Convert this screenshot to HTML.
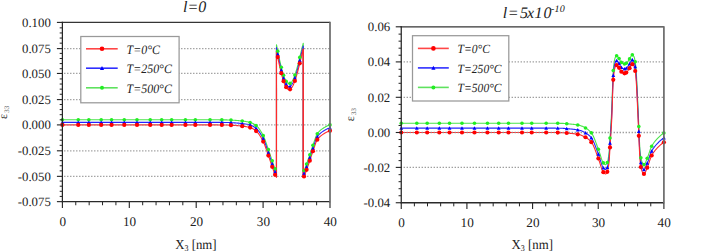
<!DOCTYPE html>
<html><head><meta charset="utf-8"><style>
html,body{margin:0;padding:0;background:#fff;width:725px;height:252px;overflow:hidden}
svg{display:block}
</style></head><body>
<svg width="725" height="252" viewBox="0 0 725 252" text-rendering="geometricPrecision">
<rect width="725" height="252" fill="#fff"/>
<polyline points="62.4,119.79 63.23,119.79 64.05,119.79 64.88,119.79 65.71,119.79 66.53,119.79 67.36,119.79 68.19,119.79 69.01,119.79 69.84,119.79 70.67,119.79 71.49,119.79 72.32,119.79 73.15,119.79 73.97,119.79 74.8,119.79 75.63,119.79 76.45,119.79 77.28,119.79 78.1,119.79 78.93,119.79 79.76,119.79 80.58,119.79 81.41,119.79 82.24,119.79 83.06,119.79 83.89,119.79 84.72,119.79 85.54,119.79 86.37,119.79 87.2,119.79 88.02,119.79 88.85,119.79 89.68,119.79 90.5,119.79 91.33,119.79 92.16,119.79 92.98,119.79 93.81,119.79 94.64,119.79 95.46,119.79 96.29,119.79 97.12,119.79 97.94,119.79 98.77,119.79 99.6,119.79 100.42,119.79 101.25,119.79 102.08,119.79 102.9,119.79 103.73,119.79 104.55,119.79 105.38,119.79 106.21,119.79 107.03,119.79 107.86,119.79 108.69,119.79 109.51,119.79 110.34,119.79 111.17,119.79 111.99,119.79 112.82,119.79 113.65,119.79 114.47,119.79 115.3,119.79 116.13,119.79 116.95,119.79 117.78,119.79 118.61,119.79 119.43,119.79 120.26,119.79 121.09,119.79 121.91,119.79 122.74,119.79 123.57,119.79 124.39,119.79 125.22,119.79 126.05,119.79 126.87,119.79 127.7,119.79 128.53,119.79 129.35,119.79 130.18,119.79 131,119.79 131.83,119.79 132.66,119.79 133.48,119.79 134.31,119.79 135.14,119.79 135.96,119.79 136.79,119.79 137.62,119.79 138.44,119.79 139.27,119.79 140.1,119.79 140.92,119.79 141.75,119.79 142.58,119.79 143.4,119.79 144.23,119.79 145.06,119.79 145.88,119.79 146.71,119.79 147.54,119.79 148.36,119.79 149.19,119.79 150.02,119.79 150.84,119.79 151.67,119.79 152.5,119.79 153.32,119.79 154.15,119.79 154.98,119.79 155.8,119.79 156.63,119.79 157.45,119.79 158.28,119.79 159.11,119.79 159.93,119.79 160.76,119.79 161.59,119.79 162.41,119.79 163.24,119.79 164.07,119.79 164.89,119.79 165.72,119.79 166.55,119.79 167.37,119.79 168.2,119.79 169.03,119.79 169.85,119.79 170.68,119.79 171.51,119.79 172.33,119.79 173.16,119.79 173.99,119.79 174.81,119.79 175.64,119.79 176.47,119.79 177.29,119.79 178.12,119.79 178.95,119.79 179.77,119.79 180.6,119.79 181.43,119.79 182.25,119.79 183.08,119.79 183.9,119.79 184.73,119.79 185.56,119.79 186.38,119.79 187.21,119.79 188.04,119.79 188.86,119.79 189.69,119.79 190.52,119.79 191.34,119.79 192.17,119.79 193,119.79 193.82,119.79 194.65,119.79 195.48,119.79 196.3,119.79 197.13,119.79 197.96,119.79 198.78,119.79 199.61,119.79 200.44,119.79 201.26,119.79 202.09,119.79 202.92,119.79 203.74,119.79 204.57,119.79 205.4,119.79 206.22,119.79 207.05,119.79 207.88,119.79 208.7,119.79 209.53,119.79 210.35,119.79 211.18,119.79 212.01,119.79 212.83,119.8 213.66,119.8 214.49,119.8 215.31,119.8 216.14,119.81 216.97,119.81 217.79,119.82 218.62,119.82 219.45,119.83 220.27,119.83 221.1,119.84 221.93,119.85 222.75,119.86 223.58,119.86 224.41,119.87 225.23,119.88 226.06,119.89 226.89,119.9 227.71,119.93 228.54,119.96 229.37,119.99 230.19,120.04 231.02,120.08 231.85,120.13 232.67,120.18 233.5,120.23 234.33,120.28 235.15,120.34 235.98,120.4 236.8,120.47 237.63,120.54 238.46,120.62 239.28,120.7 240.11,120.78 240.94,120.87 241.76,120.96 242.59,121.06 243.42,121.17 244.24,121.28 245.07,121.39 245.9,121.53 246.72,121.67 247.55,121.83 248.38,122.01 249.2,122.2 250.03,122.42 250.86,122.67 251.68,122.98 252.51,123.35 253.34,123.78 254.16,124.26 254.99,124.78 255.82,125.36 256.64,126 257.47,126.78 258.3,127.7 259.12,128.76 259.95,129.93 260.78,131.22 261.6,132.61 262.43,134.1 263.25,135.67 264.08,137.46 264.91,139.54 265.73,141.83 266.56,144.25 267.39,146.72 268.21,149.14 269.04,151.51 269.87,153.96 270.69,156.44 271.52,158.9 272.35,161.29 273.17,163.73 274,166.14 274.83,168.27 275.65,169.99 276.48,171.38 276.48,44.68 276.82,46.43 277.16,48.15 277.5,49.87 277.83,51.57 278.17,53.24 278.51,54.9 278.85,56.52 279.19,58.12 279.53,59.69 279.87,61.22 280.21,62.72 280.54,64.18 280.88,65.59 281.22,66.97 281.56,68.3 281.9,69.59 282.24,70.83 282.58,72.02 282.92,73.15 283.25,74.24 283.59,75.27 283.93,76.24 284.27,77.16 284.61,78.03 284.95,78.83 285.29,79.57 285.63,80.25 285.96,80.88 286.3,81.44 286.64,81.93 286.98,82.37 287.32,82.74 287.66,83.05 288,83.29 288.34,83.47 288.67,83.59 289.01,83.64 289.35,83.63 289.69,83.56 290.03,83.42 290.37,83.22 290.71,82.96 291.05,82.64 291.38,82.26 291.72,81.81 292.06,81.31 292.4,80.75 292.74,80.14 293.08,79.46 293.42,78.74 293.76,77.96 294.09,77.13 294.43,76.25 294.77,75.32 295.11,74.35 295.45,73.33 295.79,72.27 296.13,71.17 296.47,70.02 296.8,68.85 297.14,67.64 297.48,66.39 297.82,65.12 298.16,63.82 298.5,62.5 298.84,61.16 299.18,59.8 299.51,58.42 299.85,57.03 300.19,55.63 300.53,54.23 300.87,52.82 301.21,51.41 301.55,50.01 301.89,48.61 302.22,47.23 302.56,45.86 302.9,44.51 303.24,43.19 303.24,171.38 303.58,171.11 303.92,170.73 304.26,170.23 304.59,169.56 304.93,168.73 305.27,167.8 305.61,166.8 305.95,165.77 306.29,164.76 306.63,163.81 306.97,162.88 307.3,161.93 307.64,160.97 307.98,160.01 308.32,159.03 308.66,158.05 309,157.06 309.34,156.07 309.68,155.08 310.01,154.09 310.35,153.08 310.69,152.05 311.03,151.02 311.37,149.99 311.71,148.96 312.05,147.94 312.39,146.93 312.72,145.95 313.06,144.98 313.4,143.99 313.74,142.97 314.08,141.93 314.42,140.89 314.76,139.86 315.1,138.85 315.43,137.88 315.77,136.96 316.11,136.1 316.45,135.32 316.79,134.62 317.13,134.03 317.47,133.54 317.81,133.09 318.14,132.65 318.48,132.25 318.82,131.86 319.16,131.5 319.5,131.15 319.84,130.82 320.18,130.51 320.52,130.21 320.85,129.93 321.19,129.65 321.53,129.39 321.87,129.15 322.21,128.9 322.55,128.67 322.89,128.45 323.23,128.22 323.56,128.01 323.9,127.79 324.24,127.58 324.58,127.37 324.92,127.17 325.26,126.97 325.6,126.78 325.94,126.59 326.27,126.41 326.61,126.23 326.95,126.06 327.29,125.9 327.63,125.74 327.97,125.6 328.31,125.46 328.65,125.33 328.98,125.21 329.32,125.09 329.66,124.99 330,124.9" fill="none" stroke="#4be44b" stroke-width="1.1" stroke-linejoin="round"/>
<polyline points="62.4,122.35 63.23,122.35 64.05,122.35 64.88,122.35 65.71,122.35 66.53,122.35 67.36,122.35 68.19,122.35 69.01,122.35 69.84,122.35 70.67,122.35 71.49,122.35 72.32,122.35 73.15,122.35 73.97,122.35 74.8,122.35 75.63,122.35 76.45,122.35 77.28,122.35 78.1,122.35 78.93,122.35 79.76,122.35 80.58,122.35 81.41,122.35 82.24,122.35 83.06,122.35 83.89,122.35 84.72,122.35 85.54,122.35 86.37,122.35 87.2,122.35 88.02,122.35 88.85,122.35 89.68,122.35 90.5,122.35 91.33,122.35 92.16,122.35 92.98,122.35 93.81,122.35 94.64,122.35 95.46,122.35 96.29,122.35 97.12,122.35 97.94,122.35 98.77,122.35 99.6,122.35 100.42,122.35 101.25,122.35 102.08,122.35 102.9,122.35 103.73,122.35 104.55,122.35 105.38,122.35 106.21,122.35 107.03,122.35 107.86,122.35 108.69,122.35 109.51,122.35 110.34,122.35 111.17,122.35 111.99,122.35 112.82,122.35 113.65,122.35 114.47,122.35 115.3,122.35 116.13,122.35 116.95,122.35 117.78,122.35 118.61,122.35 119.43,122.35 120.26,122.35 121.09,122.35 121.91,122.35 122.74,122.35 123.57,122.35 124.39,122.35 125.22,122.35 126.05,122.35 126.87,122.35 127.7,122.35 128.53,122.35 129.35,122.35 130.18,122.35 131,122.35 131.83,122.35 132.66,122.35 133.48,122.35 134.31,122.35 135.14,122.35 135.96,122.35 136.79,122.35 137.62,122.35 138.44,122.35 139.27,122.35 140.1,122.35 140.92,122.35 141.75,122.35 142.58,122.35 143.4,122.35 144.23,122.35 145.06,122.35 145.88,122.35 146.71,122.35 147.54,122.35 148.36,122.35 149.19,122.35 150.02,122.35 150.84,122.35 151.67,122.35 152.5,122.35 153.32,122.35 154.15,122.35 154.98,122.35 155.8,122.35 156.63,122.35 157.45,122.35 158.28,122.35 159.11,122.35 159.93,122.35 160.76,122.35 161.59,122.35 162.41,122.35 163.24,122.35 164.07,122.35 164.89,122.35 165.72,122.35 166.55,122.35 167.37,122.35 168.2,122.35 169.03,122.35 169.85,122.35 170.68,122.35 171.51,122.35 172.33,122.35 173.16,122.35 173.99,122.35 174.81,122.35 175.64,122.35 176.47,122.35 177.29,122.35 178.12,122.35 178.95,122.35 179.77,122.35 180.6,122.35 181.43,122.35 182.25,122.35 183.08,122.35 183.9,122.35 184.73,122.35 185.56,122.35 186.38,122.35 187.21,122.35 188.04,122.35 188.86,122.35 189.69,122.35 190.52,122.35 191.34,122.35 192.17,122.35 193,122.35 193.82,122.35 194.65,122.35 195.48,122.35 196.3,122.35 197.13,122.35 197.96,122.35 198.78,122.35 199.61,122.35 200.44,122.35 201.26,122.35 202.09,122.35 202.92,122.35 203.74,122.35 204.57,122.35 205.4,122.35 206.22,122.35 207.05,122.35 207.88,122.35 208.7,122.35 209.53,122.35 210.35,122.35 211.18,122.35 212.01,122.35 212.83,122.35 213.66,122.35 214.49,122.35 215.31,122.36 216.14,122.36 216.97,122.37 217.79,122.37 218.62,122.38 219.45,122.38 220.27,122.39 221.1,122.39 221.93,122.4 222.75,122.41 223.58,122.42 224.41,122.43 225.23,122.44 226.06,122.45 226.89,122.46 227.71,122.48 228.54,122.51 229.37,122.55 230.19,122.59 231.02,122.64 231.85,122.69 232.67,122.74 233.5,122.79 234.33,122.84 235.15,122.9 235.98,122.96 236.8,123.02 237.63,123.1 238.46,123.17 239.28,123.25 240.11,123.33 240.94,123.42 241.76,123.52 242.59,123.62 243.42,123.72 244.24,123.83 245.07,123.95 245.9,124.08 246.72,124.22 247.55,124.38 248.38,124.56 249.2,124.76 250.03,124.98 250.86,125.23 251.68,125.56 252.51,125.95 253.34,126.41 254.16,126.92 254.99,127.48 255.82,128.09 256.64,128.76 257.47,129.59 258.3,130.55 259.12,131.63 259.95,132.84 260.78,134.15 261.6,135.56 262.43,137.06 263.25,138.63 264.08,140.42 264.91,142.5 265.73,144.8 266.56,147.22 267.39,149.68 268.21,152.1 269.04,154.48 269.87,156.92 270.69,159.4 271.52,161.86 272.35,164.25 273.17,166.7 274,169.1 274.83,171.24 275.65,172.95 276.48,174.35 276.48,47.65 276.82,49.39 277.16,51.12 277.5,52.83 277.83,54.53 278.17,56.21 278.51,57.86 278.85,59.48 279.19,61.08 279.53,62.65 279.87,64.18 280.21,65.68 280.54,67.14 280.88,68.56 281.22,69.93 281.56,71.27 281.9,72.55 282.24,73.79 282.58,74.98 282.92,76.12 283.25,77.2 283.59,78.23 283.93,79.21 284.27,80.13 284.61,80.99 284.95,81.79 285.29,82.53 285.63,83.22 285.96,83.84 286.3,84.4 286.64,84.9 286.98,85.33 287.32,85.7 287.66,86.01 288,86.25 288.34,86.43 288.67,86.55 289.01,86.6 289.35,86.59 289.69,86.52 290.03,86.38 290.37,86.18 290.71,85.92 291.05,85.6 291.38,85.22 291.72,84.78 292.06,84.27 292.4,83.71 292.74,83.1 293.08,82.43 293.42,81.7 293.76,80.92 294.09,80.09 294.43,79.21 294.77,78.29 295.11,77.31 295.45,76.29 295.79,75.23 296.13,74.13 296.47,72.99 296.8,71.81 297.14,70.6 297.48,69.36 297.82,68.08 298.16,66.79 298.5,65.46 298.84,64.12 299.18,62.76 299.51,61.38 299.85,59.99 300.19,58.59 300.53,57.19 300.87,55.78 301.21,54.37 301.55,52.97 301.89,51.58 302.22,50.19 302.56,48.83 302.9,47.48 303.24,46.15 303.24,174.35 303.58,174.07 303.92,173.69 304.26,173.2 304.59,172.52 304.93,171.69 305.27,170.76 305.61,169.76 305.95,168.74 306.29,167.73 306.63,166.77 306.97,165.84 307.3,164.89 307.64,163.94 307.98,162.97 308.32,161.99 308.66,161.01 309,160.03 309.34,159.04 309.68,158.05 310.01,157.05 310.35,156.04 310.69,155.01 311.03,153.98 311.37,152.95 311.71,151.92 312.05,150.9 312.39,149.89 312.72,148.91 313.06,147.95 313.4,146.95 313.74,145.93 314.08,144.9 314.42,143.85 314.76,142.82 315.1,141.82 315.43,140.84 315.77,139.92 316.11,139.06 316.45,138.28 316.79,137.58 317.13,136.99 317.47,136.5 317.81,136.05 318.14,135.62 318.48,135.21 318.82,134.82 319.16,134.46 319.5,134.11 319.84,133.78 320.18,133.47 320.52,133.17 320.85,132.89 321.19,132.62 321.53,132.36 321.87,132.11 322.21,131.87 322.55,131.63 322.89,131.41 323.23,131.19 323.56,130.97 323.9,130.75 324.24,130.54 324.58,130.34 324.92,130.13 325.26,129.93 325.6,129.74 325.94,129.55 326.27,129.37 326.61,129.19 326.95,129.02 327.29,128.86 327.63,128.71 327.97,128.56 328.31,128.42 328.65,128.29 328.98,128.17 329.32,128.06 329.66,127.95 330,127.86" fill="none" stroke="#2424ff" stroke-width="1.1" stroke-linejoin="round"/>
<polyline points="62.4,124.9 63.23,124.9 64.05,124.9 64.88,124.9 65.71,124.9 66.53,124.9 67.36,124.9 68.19,124.9 69.01,124.9 69.84,124.9 70.67,124.9 71.49,124.9 72.32,124.9 73.15,124.9 73.97,124.9 74.8,124.9 75.63,124.9 76.45,124.9 77.28,124.9 78.1,124.9 78.93,124.9 79.76,124.9 80.58,124.9 81.41,124.9 82.24,124.9 83.06,124.9 83.89,124.9 84.72,124.9 85.54,124.9 86.37,124.9 87.2,124.9 88.02,124.9 88.85,124.9 89.68,124.9 90.5,124.9 91.33,124.9 92.16,124.9 92.98,124.9 93.81,124.9 94.64,124.9 95.46,124.9 96.29,124.9 97.12,124.9 97.94,124.9 98.77,124.9 99.6,124.9 100.42,124.9 101.25,124.9 102.08,124.9 102.9,124.9 103.73,124.9 104.55,124.9 105.38,124.9 106.21,124.9 107.03,124.9 107.86,124.9 108.69,124.9 109.51,124.9 110.34,124.9 111.17,124.9 111.99,124.9 112.82,124.9 113.65,124.9 114.47,124.9 115.3,124.9 116.13,124.9 116.95,124.9 117.78,124.9 118.61,124.9 119.43,124.9 120.26,124.9 121.09,124.9 121.91,124.9 122.74,124.9 123.57,124.9 124.39,124.9 125.22,124.9 126.05,124.9 126.87,124.9 127.7,124.9 128.53,124.9 129.35,124.9 130.18,124.9 131,124.9 131.83,124.9 132.66,124.9 133.48,124.9 134.31,124.9 135.14,124.9 135.96,124.9 136.79,124.9 137.62,124.9 138.44,124.9 139.27,124.9 140.1,124.9 140.92,124.9 141.75,124.9 142.58,124.9 143.4,124.9 144.23,124.9 145.06,124.9 145.88,124.9 146.71,124.9 147.54,124.9 148.36,124.9 149.19,124.9 150.02,124.9 150.84,124.9 151.67,124.9 152.5,124.9 153.32,124.9 154.15,124.9 154.98,124.9 155.8,124.9 156.63,124.9 157.45,124.9 158.28,124.9 159.11,124.9 159.93,124.9 160.76,124.9 161.59,124.9 162.41,124.9 163.24,124.9 164.07,124.9 164.89,124.9 165.72,124.9 166.55,124.9 167.37,124.9 168.2,124.9 169.03,124.9 169.85,124.9 170.68,124.9 171.51,124.9 172.33,124.9 173.16,124.9 173.99,124.9 174.81,124.9 175.64,124.9 176.47,124.9 177.29,124.9 178.12,124.9 178.95,124.9 179.77,124.9 180.6,124.9 181.43,124.9 182.25,124.9 183.08,124.9 183.9,124.9 184.73,124.9 185.56,124.9 186.38,124.9 187.21,124.9 188.04,124.9 188.86,124.9 189.69,124.9 190.52,124.9 191.34,124.9 192.17,124.9 193,124.9 193.82,124.9 194.65,124.9 195.48,124.9 196.3,124.9 197.13,124.9 197.96,124.9 198.78,124.9 199.61,124.9 200.44,124.9 201.26,124.9 202.09,124.9 202.92,124.9 203.74,124.9 204.57,124.9 205.4,124.9 206.22,124.9 207.05,124.9 207.88,124.9 208.7,124.9 209.53,124.9 210.35,124.9 211.18,124.9 212.01,124.9 212.83,124.9 213.66,124.91 214.49,124.91 215.31,124.91 216.14,124.92 216.97,124.92 217.79,124.92 218.62,124.93 219.45,124.94 220.27,124.94 221.1,124.95 221.93,124.96 222.75,124.96 223.58,124.97 224.41,124.98 225.23,124.99 226.06,125 226.89,125.01 227.71,125.03 228.54,125.06 229.37,125.1 230.19,125.14 231.02,125.19 231.85,125.24 232.67,125.29 233.5,125.34 234.33,125.39 235.15,125.45 235.98,125.51 236.8,125.58 237.63,125.65 238.46,125.72 239.28,125.8 240.11,125.89 240.94,125.98 241.76,126.07 242.59,126.17 243.42,126.27 244.24,126.38 245.07,126.5 245.9,126.63 246.72,126.78 247.55,126.94 248.38,127.11 249.2,127.31 250.03,127.53 250.86,127.8 251.68,128.14 252.51,128.55 253.34,129.04 254.16,129.58 254.99,130.17 255.82,130.82 256.64,131.53 257.47,132.39 258.3,133.39 259.12,134.51 259.95,135.75 260.78,137.08 261.6,138.51 262.43,140.02 263.25,141.59 264.08,143.38 264.91,145.47 265.73,147.76 266.56,150.18 267.39,152.64 268.21,155.06 269.04,157.44 269.87,159.89 270.69,162.36 271.52,164.82 272.35,167.21 273.17,169.66 274,172.06 274.83,174.2 275.65,175.91 276.48,177.31 276.48,50.61 276.82,52.35 277.16,54.08 277.5,55.79 277.83,57.49 278.17,59.17 278.51,60.82 278.85,62.45 279.19,64.05 279.53,65.61 279.87,67.15 280.21,68.64 280.54,70.1 280.88,71.52 281.22,72.9 281.56,74.23 281.9,75.51 282.24,76.75 282.58,77.94 282.92,79.08 283.25,80.16 283.59,81.19 283.93,82.17 284.27,83.09 284.61,83.95 284.95,84.75 285.29,85.5 285.63,86.18 285.96,86.8 286.3,87.36 286.64,87.86 286.98,88.29 287.32,88.66 287.66,88.97 288,89.22 288.34,89.4 288.67,89.51 289.01,89.57 289.35,89.56 289.69,89.48 290.03,89.35 290.37,89.15 290.71,88.89 291.05,88.56 291.38,88.18 291.72,87.74 292.06,87.24 292.4,86.68 292.74,86.06 293.08,85.39 293.42,84.66 293.76,83.89 294.09,83.06 294.43,82.18 294.77,81.25 295.11,80.27 295.45,79.25 295.79,78.19 296.13,77.09 296.47,75.95 296.8,74.77 297.14,73.56 297.48,72.32 297.82,71.05 298.16,69.75 298.5,68.43 298.84,67.08 299.18,65.72 299.51,64.34 299.85,62.95 300.19,61.56 300.53,60.15 300.87,58.74 301.21,57.34 301.55,55.93 301.89,54.54 302.22,53.16 302.56,51.79 302.9,50.44 303.24,49.11 303.24,177.31 303.58,177.03 303.92,176.66 304.26,176.16 304.59,175.48 304.93,174.66 305.27,173.72 305.61,172.72 305.95,171.7 306.29,170.69 306.63,169.73 306.97,168.8 307.3,167.86 307.64,166.9 307.98,165.93 308.32,164.96 308.66,163.97 309,162.99 309.34,162 309.68,161.01 310.01,160.01 310.35,159 310.69,157.98 311.03,156.95 311.37,155.91 311.71,154.88 312.05,153.86 312.39,152.86 312.72,151.87 313.06,150.91 313.4,149.92 313.74,148.9 314.08,147.86 314.42,146.82 314.76,145.79 315.1,144.78 315.43,143.81 315.77,142.88 316.11,142.02 316.45,141.24 316.79,140.55 317.13,139.95 317.47,139.46 317.81,139.01 318.14,138.58 318.48,138.17 318.82,137.79 319.16,137.42 319.5,137.07 319.84,136.74 320.18,136.43 320.52,136.13 320.85,135.85 321.19,135.58 321.53,135.32 321.87,135.07 322.21,134.83 322.55,134.6 322.89,134.37 323.23,134.15 323.56,133.93 323.9,133.72 324.24,133.51 324.58,133.3 324.92,133.09 325.26,132.9 325.6,132.7 325.94,132.51 326.27,132.33 326.61,132.16 326.95,131.99 327.29,131.82 327.63,131.67 327.97,131.52 328.31,131.38 328.65,131.25 328.98,131.13 329.32,131.02 329.66,130.92 330,130.83" fill="none" stroke="#ff2a2a" stroke-width="1.1" stroke-linejoin="round"/>
<polyline points="401.25,123.19 401.78,123.19 402.3,123.19 402.83,123.19 403.36,123.19 403.88,123.19 404.41,123.19 404.93,123.19 405.46,123.19 405.99,123.19 406.51,123.19 407.04,123.19 407.57,123.19 408.09,123.19 408.62,123.19 409.15,123.19 409.67,123.19 410.2,123.19 410.72,123.19 411.25,123.19 411.78,123.19 412.3,123.19 412.83,123.19 413.36,123.19 413.88,123.19 414.41,123.19 414.94,123.19 415.46,123.19 415.99,123.19 416.51,123.19 417.04,123.19 417.57,123.19 418.09,123.19 418.62,123.19 419.15,123.19 419.67,123.19 420.2,123.19 420.73,123.19 421.25,123.19 421.78,123.19 422.3,123.19 422.83,123.19 423.36,123.19 423.88,123.19 424.41,123.19 424.94,123.19 425.46,123.19 425.99,123.19 426.51,123.19 427.04,123.19 427.57,123.19 428.09,123.19 428.62,123.19 429.15,123.19 429.67,123.19 430.2,123.19 430.73,123.19 431.25,123.19 431.78,123.19 432.3,123.19 432.83,123.19 433.36,123.19 433.88,123.19 434.41,123.19 434.94,123.19 435.46,123.19 435.99,123.19 436.52,123.19 437.04,123.19 437.57,123.19 438.09,123.19 438.62,123.19 439.15,123.19 439.67,123.19 440.2,123.19 440.73,123.19 441.25,123.19 441.78,123.19 442.31,123.19 442.83,123.19 443.36,123.19 443.88,123.19 444.41,123.19 444.94,123.19 445.46,123.19 445.99,123.19 446.52,123.19 447.04,123.19 447.57,123.19 448.1,123.19 448.62,123.19 449.15,123.19 449.67,123.19 450.2,123.19 450.73,123.19 451.25,123.19 451.78,123.19 452.31,123.19 452.83,123.19 453.36,123.19 453.89,123.19 454.41,123.19 454.94,123.19 455.46,123.19 455.99,123.19 456.52,123.19 457.04,123.19 457.57,123.19 458.1,123.19 458.62,123.19 459.15,123.19 459.68,123.19 460.2,123.19 460.73,123.19 461.25,123.19 461.78,123.19 462.31,123.19 462.83,123.19 463.36,123.19 463.89,123.19 464.41,123.19 464.94,123.19 465.47,123.19 465.99,123.19 466.52,123.19 467.04,123.19 467.57,123.19 468.1,123.19 468.62,123.19 469.15,123.19 469.68,123.19 470.2,123.19 470.73,123.19 471.25,123.19 471.78,123.19 472.31,123.19 472.83,123.19 473.36,123.19 473.89,123.19 474.41,123.19 474.94,123.19 475.47,123.19 475.99,123.19 476.52,123.19 477.04,123.19 477.57,123.19 478.1,123.19 478.62,123.19 479.15,123.19 479.68,123.19 480.2,123.19 480.73,123.19 481.26,123.19 481.78,123.19 482.31,123.19 482.83,123.19 483.36,123.19 483.89,123.19 484.41,123.19 484.94,123.19 485.47,123.19 485.99,123.19 486.52,123.19 487.05,123.19 487.57,123.19 488.1,123.19 488.62,123.19 489.15,123.19 489.68,123.19 490.2,123.19 490.73,123.19 491.26,123.19 491.78,123.19 492.31,123.19 492.84,123.19 493.36,123.19 493.89,123.19 494.41,123.19 494.94,123.19 495.47,123.19 495.99,123.19 496.52,123.19 497.05,123.19 497.57,123.19 498.1,123.19 498.63,123.19 499.15,123.19 499.68,123.19 500.2,123.19 500.73,123.19 501.26,123.19 501.78,123.19 502.31,123.19 502.84,123.19 503.36,123.19 503.89,123.19 504.42,123.19 504.94,123.19 505.47,123.19 505.99,123.19 506.52,123.19 507.05,123.19 507.57,123.19 508.1,123.19 508.63,123.19 509.15,123.19 509.68,123.19 510.21,123.19 510.73,123.19 511.26,123.19 511.78,123.19 512.31,123.19 512.84,123.19 513.36,123.19 513.89,123.19 514.42,123.19 514.94,123.19 515.47,123.19 515.99,123.19 516.52,123.19 517.05,123.19 517.57,123.19 518.1,123.19 518.63,123.19 519.15,123.19 519.68,123.19 520.21,123.19 520.73,123.19 521.26,123.19 521.78,123.19 522.31,123.19 522.84,123.19 523.36,123.19 523.89,123.19 524.42,123.19 524.94,123.19 525.47,123.19 526,123.19 526.52,123.19 527.05,123.19 527.57,123.19 528.1,123.19 528.63,123.19 529.15,123.19 529.68,123.19 530.21,123.19 530.73,123.19 531.26,123.19 531.79,123.19 532.31,123.19 532.84,123.19 533.36,123.19 533.89,123.19 534.42,123.19 534.94,123.19 535.47,123.19 536,123.19 536.52,123.19 537.05,123.19 537.58,123.19 538.1,123.19 538.63,123.19 539.15,123.19 539.68,123.19 540.21,123.19 540.73,123.19 541.26,123.19 541.79,123.19 542.31,123.19 542.84,123.19 543.37,123.19 543.89,123.19 544.42,123.19 544.94,123.19 545.47,123.19 545.71,123.19 546,123.19 546.52,123.19 547.05,123.19 547.58,123.19 548.1,123.19 548.63,123.2 549.16,123.2 549.68,123.2 550.21,123.2 550.73,123.21 551.26,123.21 551.79,123.21 552.31,123.22 552.84,123.22 553.37,123.23 553.89,123.23 554.42,123.24 554.94,123.25 555.47,123.25 556,123.26 556.52,123.27 557.05,123.27 557.58,123.28 558.1,123.29 558.63,123.3 559.16,123.31 559.68,123.32 560.21,123.33 560.73,123.34 561.26,123.35 561.79,123.36 562.12,123.37 562.31,123.37 562.84,123.39 563.37,123.41 563.89,123.45 564.42,123.48 564.95,123.53 565.47,123.57 566,123.62 566.52,123.67 567.05,123.73 567.58,123.78 568.1,123.83 568.63,123.89 568.69,123.89 569.16,123.94 569.68,123.99 570.21,124.04 570.74,124.09 571.26,124.14 571.79,124.19 572.31,124.24 572.84,124.3 573.37,124.36 573.89,124.42 574.42,124.48 574.95,124.55 575.47,124.62 576,124.69 576.53,124.77 577.05,124.85 577.58,124.94 578.1,125.04 578.54,125.12 578.63,125.14 579.16,125.26 579.68,125.4 580.21,125.55 580.74,125.73 581.26,125.92 581.79,126.12 582.32,126.34 582.84,126.58 583.37,126.83 583.89,127.08 584.42,127.35 584.95,127.63 585.47,127.92 585.5,127.93 586,128.22 586.53,128.54 587.05,128.89 587.58,129.26 588.11,129.66 588.63,130.09 589.16,130.55 589.68,131.05 590.21,131.58 590.74,132.16 591.26,132.77 591.47,133.03 591.79,133.45 592.32,134.26 592.84,135.22 593.37,136.29 593.9,137.46 594.42,138.72 594.95,140.05 595.47,141.43 596,142.85 596.53,144.28 597.05,145.71 597.58,147.13 598.11,148.51 598.37,149.19 598.63,149.88 599.16,151.41 599.68,153.07 600.21,154.78 600.74,156.51 601.26,158.16 601.79,159.7 602.32,161.04 602.84,162.13 603.36,162.89 603.37,162.9 603.9,163.5 604.42,164.04 604.95,164.44 605.47,164.64 605.59,164.65 606,164.49 606.53,163.9 607.05,162.98 607.43,162.19 607.58,161.8 608.11,159.57 608.63,156.14 609.07,152.53 609.16,151.64 609.69,143.39 609.99,138.12 610.21,134.69 610.74,126.79 611.26,118.45 611.7,110.54 611.79,108.57 612.32,94 612.84,78.7 613.27,70.49 613.37,69.42 613.9,64.29 614.42,60.51 614.95,58.27 614.98,58.19 615.48,57.06 616,56.16 616.53,55.74 616.62,55.73 617.05,55.88 617.58,56.38 618.11,57.11 618.63,57.93 619.05,58.54 619.16,58.7 619.69,59.62 620.21,60.66 620.74,61.63 621.27,62.33 621.35,62.41 621.79,62.75 622.32,63.13 622.84,63.47 623.37,63.73 623.9,63.91 624.42,63.99 624.5,63.99 624.95,63.93 625.48,63.73 626,63.44 626.28,63.29 626.53,63.11 627.06,62.6 627.58,61.92 628.11,61.13 628.63,60.3 629.16,59.48 629.56,58.89 629.69,58.71 630.21,57.79 630.74,56.76 631.27,55.82 631.79,55.12 632.32,54.85 632.32,54.85 632.85,55.09 633.37,55.7 633.9,56.56 634.02,56.79 634.42,57.89 634.95,60.27 635.21,61.7 635.48,63.65 636,69.02 636.12,70.49 636.53,76.53 637.06,86.78 637.58,98.45 638.11,110.17 638.23,112.65 638.64,122.01 639.16,134.9 639.69,145.91 639.93,149.54 640.21,152.79 640.74,157.26 640.85,157.8 641.27,159.37 641.79,161.13 642.32,162.58 642.85,163.68 643.37,164.38 643.9,164.65 643.94,164.65 644.42,164.41 644.95,163.7 645.48,162.64 646,161.36 646.53,160.01 647.06,158.7 647.22,158.32 647.58,157.47 648.11,156.06 648.64,154.53 649.16,152.93 649.69,151.32 650.21,149.76 650.74,148.32 651.27,147.05 651.69,146.2 651.79,146.01 652.32,145.1 652.85,144.25 653.37,143.45 653.9,142.7 654.43,141.99 654.95,141.33 655.48,140.69 656,140.09 656.53,139.51 657.06,138.94 657.33,138.65 657.58,138.39 658.11,137.85 658.64,137.32 659.16,136.8 659.69,136.3 660.22,135.82 660.74,135.36 661.27,134.91 661.79,134.49 662.32,134.09 662.85,133.71 663.37,133.35 663.9,133.03" fill="none" stroke="#4be44b" stroke-width="1.1" stroke-linejoin="round"/>
<polyline points="401.25,128.11 401.78,128.11 402.3,128.11 402.83,128.11 403.36,128.11 403.88,128.11 404.41,128.11 404.93,128.11 405.46,128.11 405.99,128.11 406.51,128.11 407.04,128.11 407.57,128.11 408.09,128.11 408.62,128.11 409.15,128.11 409.67,128.11 410.2,128.11 410.72,128.11 411.25,128.11 411.78,128.11 412.3,128.11 412.83,128.11 413.36,128.11 413.88,128.11 414.41,128.11 414.94,128.11 415.46,128.11 415.99,128.11 416.51,128.11 417.04,128.11 417.57,128.11 418.09,128.11 418.62,128.11 419.15,128.11 419.67,128.11 420.2,128.11 420.73,128.11 421.25,128.11 421.78,128.11 422.3,128.11 422.83,128.11 423.36,128.11 423.88,128.11 424.41,128.11 424.94,128.11 425.46,128.11 425.99,128.11 426.51,128.11 427.04,128.11 427.57,128.11 428.09,128.11 428.62,128.11 429.15,128.11 429.67,128.11 430.2,128.11 430.73,128.11 431.25,128.11 431.78,128.11 432.3,128.11 432.83,128.11 433.36,128.11 433.88,128.11 434.41,128.11 434.94,128.11 435.46,128.11 435.99,128.11 436.52,128.11 437.04,128.11 437.57,128.11 438.09,128.11 438.62,128.11 439.15,128.11 439.67,128.11 440.2,128.11 440.73,128.11 441.25,128.11 441.78,128.11 442.31,128.11 442.83,128.11 443.36,128.11 443.88,128.11 444.41,128.11 444.94,128.11 445.46,128.11 445.99,128.11 446.52,128.11 447.04,128.11 447.57,128.11 448.1,128.11 448.62,128.11 449.15,128.11 449.67,128.11 450.2,128.11 450.73,128.11 451.25,128.11 451.78,128.11 452.31,128.11 452.83,128.11 453.36,128.11 453.89,128.11 454.41,128.11 454.94,128.11 455.46,128.11 455.99,128.11 456.52,128.11 457.04,128.11 457.57,128.11 458.1,128.11 458.62,128.11 459.15,128.11 459.68,128.11 460.2,128.11 460.73,128.11 461.25,128.11 461.78,128.11 462.31,128.11 462.83,128.11 463.36,128.11 463.89,128.11 464.41,128.11 464.94,128.11 465.47,128.11 465.99,128.11 466.52,128.11 467.04,128.11 467.57,128.11 468.1,128.11 468.62,128.11 469.15,128.11 469.68,128.11 470.2,128.11 470.73,128.11 471.25,128.11 471.78,128.11 472.31,128.11 472.83,128.11 473.36,128.11 473.89,128.11 474.41,128.11 474.94,128.11 475.47,128.11 475.99,128.11 476.52,128.11 477.04,128.11 477.57,128.11 478.1,128.11 478.62,128.11 479.15,128.11 479.68,128.11 480.2,128.11 480.73,128.11 481.26,128.11 481.78,128.11 482.31,128.11 482.83,128.11 483.36,128.11 483.89,128.11 484.41,128.11 484.94,128.11 485.47,128.11 485.99,128.11 486.52,128.11 487.05,128.11 487.57,128.11 488.1,128.11 488.62,128.11 489.15,128.11 489.68,128.11 490.2,128.11 490.73,128.11 491.26,128.11 491.78,128.11 492.31,128.11 492.84,128.11 493.36,128.11 493.89,128.11 494.41,128.11 494.94,128.11 495.47,128.11 495.99,128.11 496.52,128.11 497.05,128.11 497.57,128.11 498.1,128.11 498.63,128.11 499.15,128.11 499.68,128.11 500.2,128.11 500.73,128.11 501.26,128.11 501.78,128.11 502.31,128.11 502.84,128.11 503.36,128.11 503.89,128.11 504.42,128.11 504.94,128.11 505.47,128.11 505.99,128.11 506.52,128.11 507.05,128.11 507.57,128.11 508.1,128.11 508.63,128.11 509.15,128.11 509.68,128.11 510.21,128.11 510.73,128.11 511.26,128.11 511.78,128.11 512.31,128.11 512.84,128.11 513.36,128.11 513.89,128.11 514.42,128.11 514.94,128.11 515.47,128.11 515.99,128.11 516.52,128.11 517.05,128.11 517.57,128.11 518.1,128.11 518.63,128.11 519.15,128.11 519.68,128.11 520.21,128.11 520.73,128.11 521.26,128.11 521.78,128.11 522.31,128.11 522.84,128.11 523.36,128.11 523.89,128.11 524.42,128.11 524.94,128.11 525.47,128.11 526,128.11 526.52,128.11 527.05,128.11 527.57,128.11 528.1,128.11 528.63,128.11 529.15,128.11 529.68,128.11 530.21,128.11 530.73,128.11 531.26,128.11 531.79,128.11 532.31,128.11 532.84,128.11 533.36,128.11 533.89,128.11 534.42,128.11 534.94,128.11 535.47,128.11 536,128.11 536.52,128.11 537.05,128.11 537.58,128.11 538.1,128.11 538.63,128.11 539.15,128.11 539.68,128.11 540.21,128.11 540.73,128.11 541.26,128.11 541.79,128.11 542.31,128.11 542.84,128.11 543.37,128.11 543.89,128.11 544.42,128.11 544.94,128.11 545.47,128.11 545.71,128.11 546,128.11 546.52,128.11 547.05,128.11 547.58,128.11 548.1,128.11 548.63,128.11 549.16,128.12 549.68,128.12 550.21,128.12 550.73,128.12 551.26,128.13 551.79,128.13 552.31,128.14 552.84,128.14 553.37,128.15 553.89,128.15 554.42,128.16 554.94,128.16 555.47,128.17 556,128.18 556.52,128.19 557.05,128.19 557.58,128.2 558.1,128.21 558.63,128.22 559.16,128.23 559.68,128.24 560.21,128.25 560.73,128.26 561.26,128.27 561.79,128.28 562.12,128.28 562.31,128.29 562.84,128.31 563.37,128.33 563.89,128.36 564.42,128.4 564.95,128.45 565.47,128.49 566,128.54 566.52,128.59 567.05,128.65 567.58,128.7 568.1,128.75 568.63,128.81 568.69,128.81 569.16,128.86 569.68,128.91 570.21,128.96 570.74,129.01 571.26,129.06 571.79,129.11 572.31,129.16 572.84,129.22 573.37,129.27 573.89,129.33 574.42,129.4 574.95,129.46 575.47,129.53 576,129.61 576.53,129.69 577.05,129.77 577.58,129.86 578.1,129.96 578.54,130.04 578.63,130.06 579.16,130.18 579.68,130.31 580.21,130.47 580.74,130.64 581.26,130.83 581.79,131.04 582.32,131.26 582.84,131.5 583.37,131.74 583.89,132 584.42,132.27 584.95,132.55 585.47,132.84 585.5,132.85 586,133.14 586.53,133.46 587.05,133.81 587.58,134.18 588.11,134.58 588.63,135.01 589.16,135.47 589.68,135.97 590.21,136.5 590.74,137.08 591.26,137.69 591.47,137.95 591.79,138.36 592.32,139.18 592.84,140.14 593.37,141.21 593.9,142.38 594.42,143.64 594.95,144.97 595.47,146.35 596,147.76 596.53,149.2 597.05,150.63 597.58,152.05 598.11,153.43 598.37,154.11 598.63,154.8 599.16,156.33 599.68,157.98 600.21,159.7 600.74,161.42 601.26,163.08 601.79,164.61 602.32,165.96 602.84,167.05 603.36,167.81 603.37,167.82 603.9,168.42 604.42,168.96 604.95,169.36 605.47,169.56 605.59,169.57 606,169.41 606.53,168.82 607.05,167.9 607.43,167.11 607.58,166.72 608.11,164.49 608.63,161.06 609.07,157.45 609.16,156.56 609.69,148.31 609.99,143.04 610.21,139.61 610.74,131.7 611.26,123.37 611.7,115.46 611.79,113.49 612.32,98.92 612.84,83.62 613.27,75.41 613.37,74.34 613.9,69.21 614.42,65.43 614.95,63.19 614.98,63.11 615.48,61.98 616,61.08 616.53,60.66 616.62,60.65 617.05,60.8 617.58,61.3 618.11,62.03 618.63,62.85 619.05,63.46 619.16,63.62 619.69,64.54 620.21,65.58 620.74,66.55 621.27,67.25 621.35,67.33 621.79,67.67 622.32,68.05 622.84,68.38 623.37,68.65 623.9,68.83 624.42,68.91 624.5,68.91 624.95,68.84 625.48,68.64 626,68.36 626.28,68.2 626.53,68.03 627.06,67.51 627.58,66.84 628.11,66.05 628.63,65.22 629.16,64.4 629.56,63.81 629.69,63.62 630.21,62.7 630.74,61.68 631.27,60.74 631.79,60.04 632.32,59.77 632.32,59.77 632.85,60.01 633.37,60.62 633.9,61.48 634.02,61.7 634.42,62.81 634.95,65.19 635.21,66.62 635.48,68.56 636,73.94 636.12,75.41 636.53,81.45 637.06,91.7 637.58,103.36 638.11,115.09 638.23,117.57 638.64,126.93 639.16,139.82 639.69,150.83 639.93,154.46 640.21,157.71 640.74,162.18 640.85,162.72 641.27,164.29 641.79,166.05 642.32,167.5 642.85,168.6 643.37,169.3 643.9,169.56 643.94,169.57 644.42,169.33 644.95,168.62 645.48,167.56 646,166.28 646.53,164.93 647.06,163.62 647.22,163.24 647.58,162.38 648.11,160.98 648.64,159.45 649.16,157.84 649.69,156.24 650.21,154.68 650.74,153.24 651.27,151.97 651.69,151.12 651.79,150.93 652.32,150.02 652.85,149.16 653.37,148.37 653.9,147.62 654.43,146.91 654.95,146.25 655.48,145.61 656,145.01 656.53,144.42 657.06,143.86 657.33,143.57 657.58,143.31 658.11,142.76 658.64,142.24 659.16,141.72 659.69,141.22 660.22,140.74 660.74,140.28 661.27,139.83 661.79,139.41 662.32,139.01 662.85,138.63 663.37,138.27 663.9,137.95" fill="none" stroke="#2424ff" stroke-width="1.1" stroke-linejoin="round"/>
<polyline points="401.25,132.5 401.78,132.5 402.3,132.5 402.83,132.5 403.36,132.5 403.88,132.5 404.41,132.5 404.93,132.5 405.46,132.5 405.99,132.5 406.51,132.5 407.04,132.5 407.57,132.5 408.09,132.5 408.62,132.5 409.15,132.5 409.67,132.5 410.2,132.5 410.72,132.5 411.25,132.5 411.78,132.5 412.3,132.5 412.83,132.5 413.36,132.5 413.88,132.5 414.41,132.5 414.94,132.5 415.46,132.5 415.99,132.5 416.51,132.5 417.04,132.5 417.57,132.5 418.09,132.5 418.62,132.5 419.15,132.5 419.67,132.5 420.2,132.5 420.73,132.5 421.25,132.5 421.78,132.5 422.3,132.5 422.83,132.5 423.36,132.5 423.88,132.5 424.41,132.5 424.94,132.5 425.46,132.5 425.99,132.5 426.51,132.5 427.04,132.5 427.57,132.5 428.09,132.5 428.62,132.5 429.15,132.5 429.67,132.5 430.2,132.5 430.73,132.5 431.25,132.5 431.78,132.5 432.3,132.5 432.83,132.5 433.36,132.5 433.88,132.5 434.41,132.5 434.94,132.5 435.46,132.5 435.99,132.5 436.52,132.5 437.04,132.5 437.57,132.5 438.09,132.5 438.62,132.5 439.15,132.5 439.67,132.5 440.2,132.5 440.73,132.5 441.25,132.5 441.78,132.5 442.31,132.5 442.83,132.5 443.36,132.5 443.88,132.5 444.41,132.5 444.94,132.5 445.46,132.5 445.99,132.5 446.52,132.5 447.04,132.5 447.57,132.5 448.1,132.5 448.62,132.5 449.15,132.5 449.67,132.5 450.2,132.5 450.73,132.5 451.25,132.5 451.78,132.5 452.31,132.5 452.83,132.5 453.36,132.5 453.89,132.5 454.41,132.5 454.94,132.5 455.46,132.5 455.99,132.5 456.52,132.5 457.04,132.5 457.57,132.5 458.1,132.5 458.62,132.5 459.15,132.5 459.68,132.5 460.2,132.5 460.73,132.5 461.25,132.5 461.78,132.5 462.31,132.5 462.83,132.5 463.36,132.5 463.89,132.5 464.41,132.5 464.94,132.5 465.47,132.5 465.99,132.5 466.52,132.5 467.04,132.5 467.57,132.5 468.1,132.5 468.62,132.5 469.15,132.5 469.68,132.5 470.2,132.5 470.73,132.5 471.25,132.5 471.78,132.5 472.31,132.5 472.83,132.5 473.36,132.5 473.89,132.5 474.41,132.5 474.94,132.5 475.47,132.5 475.99,132.5 476.52,132.5 477.04,132.5 477.57,132.5 478.1,132.5 478.62,132.5 479.15,132.5 479.68,132.5 480.2,132.5 480.73,132.5 481.26,132.5 481.78,132.5 482.31,132.5 482.83,132.5 483.36,132.5 483.89,132.5 484.41,132.5 484.94,132.5 485.47,132.5 485.99,132.5 486.52,132.5 487.05,132.5 487.57,132.5 488.1,132.5 488.62,132.5 489.15,132.5 489.68,132.5 490.2,132.5 490.73,132.5 491.26,132.5 491.78,132.5 492.31,132.5 492.84,132.5 493.36,132.5 493.89,132.5 494.41,132.5 494.94,132.5 495.47,132.5 495.99,132.5 496.52,132.5 497.05,132.5 497.57,132.5 498.1,132.5 498.63,132.5 499.15,132.5 499.68,132.5 500.2,132.5 500.73,132.5 501.26,132.5 501.78,132.5 502.31,132.5 502.84,132.5 503.36,132.5 503.89,132.5 504.42,132.5 504.94,132.5 505.47,132.5 505.99,132.5 506.52,132.5 507.05,132.5 507.57,132.5 508.1,132.5 508.63,132.5 509.15,132.5 509.68,132.5 510.21,132.5 510.73,132.5 511.26,132.5 511.78,132.5 512.31,132.5 512.84,132.5 513.36,132.5 513.89,132.5 514.42,132.5 514.94,132.5 515.47,132.5 515.99,132.5 516.52,132.5 517.05,132.5 517.57,132.5 518.1,132.5 518.63,132.5 519.15,132.5 519.68,132.5 520.21,132.5 520.73,132.5 521.26,132.5 521.78,132.5 522.31,132.5 522.84,132.5 523.36,132.5 523.89,132.5 524.42,132.5 524.94,132.5 525.47,132.5 526,132.5 526.52,132.5 527.05,132.5 527.57,132.5 528.1,132.5 528.63,132.5 529.15,132.5 529.68,132.5 530.21,132.5 530.73,132.5 531.26,132.5 531.79,132.5 532.31,132.5 532.84,132.5 533.36,132.5 533.89,132.5 534.42,132.5 534.94,132.5 535.47,132.5 536,132.5 536.52,132.5 537.05,132.5 537.58,132.5 538.1,132.5 538.63,132.5 539.15,132.5 539.68,132.5 540.21,132.5 540.73,132.5 541.26,132.5 541.79,132.5 542.31,132.5 542.84,132.5 543.37,132.5 543.89,132.5 544.42,132.5 544.94,132.5 545.47,132.5 545.71,132.5 546,132.5 546.52,132.5 547.05,132.5 547.58,132.5 548.1,132.5 548.63,132.51 549.16,132.51 549.68,132.51 550.21,132.51 550.73,132.52 551.26,132.52 551.79,132.52 552.31,132.53 552.84,132.53 553.37,132.54 553.89,132.54 554.42,132.55 554.94,132.56 555.47,132.56 556,132.57 556.52,132.58 557.05,132.58 557.58,132.59 558.1,132.6 558.63,132.61 559.16,132.62 559.68,132.63 560.21,132.64 560.73,132.65 561.26,132.66 561.79,132.67 562.12,132.68 562.31,132.68 562.84,132.7 563.37,132.72 563.89,132.76 564.42,132.79 564.95,132.84 565.47,132.88 566,132.93 566.52,132.99 567.05,133.04 567.58,133.09 568.1,133.15 568.63,133.2 568.69,133.2 569.16,133.25 569.68,133.3 570.21,133.35 570.74,133.4 571.26,133.45 571.79,133.5 572.31,133.55 572.84,133.61 573.37,133.67 573.89,133.73 574.42,133.79 574.95,133.86 575.47,133.93 576,134 576.53,134.08 577.05,134.16 577.58,134.25 578.1,134.35 578.54,134.43 578.63,134.45 579.16,134.57 579.68,134.71 580.21,134.86 580.74,135.04 581.26,135.23 581.79,135.43 582.32,135.65 582.84,135.89 583.37,136.14 583.89,136.39 584.42,136.66 584.95,136.94 585.47,137.23 585.5,137.24 586,137.53 586.53,137.85 587.05,138.2 587.58,138.57 588.11,138.97 588.63,139.4 589.16,139.86 589.68,140.36 590.21,140.9 590.74,141.47 591.26,142.08 591.47,142.34 591.79,142.76 592.32,143.57 592.84,144.53 593.37,145.6 593.9,146.78 594.42,148.04 594.95,149.36 595.47,150.74 596,152.16 596.53,153.59 597.05,155.02 597.58,156.44 598.11,157.82 598.37,158.5 598.63,159.19 599.16,160.72 599.68,162.38 600.21,164.1 600.74,165.82 601.26,167.47 601.79,169.01 602.32,170.35 602.84,171.44 603.36,172.2 603.37,172.21 603.9,172.81 604.42,173.35 604.95,173.76 605.47,173.95 605.59,173.96 606,173.8 606.53,173.21 607.05,172.29 607.43,171.5 607.58,171.11 608.11,168.88 608.63,165.46 609.07,161.84 609.16,160.95 609.69,152.7 609.99,147.43 610.21,144 610.74,136.1 611.26,127.76 611.7,119.85 611.79,117.88 612.32,103.31 612.84,88.01 613.27,79.8 613.37,78.73 613.9,73.6 614.42,69.82 614.95,67.58 614.98,67.5 615.48,66.37 616,65.47 616.53,65.05 616.62,65.04 617.05,65.19 617.58,65.69 618.11,66.42 618.63,67.24 619.05,67.85 619.16,68.01 619.69,68.93 620.21,69.97 620.74,70.94 621.27,71.64 621.35,71.72 621.79,72.06 622.32,72.44 622.84,72.78 623.37,73.04 623.9,73.22 624.42,73.3 624.5,73.3 624.95,73.24 625.48,73.04 626,72.75 626.28,72.6 626.53,72.42 627.06,71.91 627.58,71.23 628.11,70.44 628.63,69.61 629.16,68.79 629.56,68.2 629.69,68.02 630.21,67.1 630.74,66.08 631.27,65.13 631.79,64.43 632.32,64.16 632.32,64.16 632.85,64.4 633.37,65.01 633.9,65.87 634.02,66.1 634.42,67.2 634.95,69.58 635.21,71.02 635.48,72.96 636,78.33 636.12,79.8 636.53,85.84 637.06,96.09 637.58,107.76 638.11,119.48 638.23,121.96 638.64,131.32 639.16,144.21 639.69,155.22 639.93,158.85 640.21,162.11 640.74,166.57 640.85,167.11 641.27,168.69 641.79,170.44 642.32,171.89 642.85,172.99 643.37,173.69 643.9,173.96 643.94,173.96 644.42,173.72 644.95,173.01 645.48,171.95 646,170.68 646.53,169.32 647.06,168.01 647.22,167.63 647.58,166.78 648.11,165.37 648.64,163.84 649.16,162.24 649.69,160.63 650.21,159.07 650.74,157.63 651.27,156.36 651.69,155.51 651.79,155.32 652.32,154.41 652.85,153.56 653.37,152.76 653.9,152.01 654.43,151.3 654.95,150.64 655.48,150 656,149.4 656.53,148.82 657.06,148.25 657.33,147.96 657.58,147.7 658.11,147.16 658.64,146.63 659.16,146.11 659.69,145.61 660.22,145.13 660.74,144.67 661.27,144.22 661.79,143.8 662.32,143.4 662.85,143.02 663.37,142.67 663.9,142.34" fill="none" stroke="#ff2a2a" stroke-width="1.1" stroke-linejoin="round"/>
<line x1="276.48" y1="177.31" x2="276.48" y2="50.61" stroke="#ff2a2a" stroke-width="1.2"/>
<line x1="303.24" y1="49.11" x2="303.24" y2="177.31" stroke="#ff2a2a" stroke-width="1.2"/>
<line x1="64.2" y1="48.6" x2="329.5" y2="48.6" stroke="#8f8f8f" stroke-width="1.3" stroke-dasharray="1.2 1.8"/>
<line x1="64.2" y1="73.45" x2="329.5" y2="73.45" stroke="#8f8f8f" stroke-width="1.3" stroke-dasharray="1.2 1.8"/>
<line x1="64.2" y1="99.6" x2="329.5" y2="99.6" stroke="#8f8f8f" stroke-width="1.3" stroke-dasharray="1.2 1.8"/>
<line x1="64.2" y1="124.9" x2="329.5" y2="124.9" stroke="#8f8f8f" stroke-width="1.3" stroke-dasharray="1.2 1.8"/>
<line x1="64.2" y1="150.8" x2="329.5" y2="150.8" stroke="#8f8f8f" stroke-width="1.3" stroke-dasharray="1.2 1.8"/>
<line x1="64.2" y1="176.35" x2="329.5" y2="176.35" stroke="#8f8f8f" stroke-width="1.3" stroke-dasharray="1.2 1.8"/>
<line x1="400.65" y1="61.9" x2="663.4" y2="61.9" stroke="#8f8f8f" stroke-width="1.3" stroke-dasharray="1.2 1.8"/>
<line x1="400.65" y1="97.3" x2="663.4" y2="97.3" stroke="#8f8f8f" stroke-width="1.3" stroke-dasharray="1.2 1.8"/>
<line x1="400.65" y1="132.5" x2="663.4" y2="132.5" stroke="#8f8f8f" stroke-width="1.3" stroke-dasharray="1.2 1.8"/>
<line x1="400.65" y1="167.4" x2="663.4" y2="167.4" stroke="#8f8f8f" stroke-width="1.3" stroke-dasharray="1.2 1.8"/>
<circle cx="62.4" cy="119.79" r="1.8" fill="#22ee22"/>
<circle cx="78.26" cy="119.79" r="1.8" fill="#22ee22"/>
<circle cx="88.83" cy="119.79" r="1.8" fill="#22ee22"/>
<circle cx="101.2" cy="119.79" r="1.8" fill="#22ee22"/>
<circle cx="111.57" cy="119.79" r="1.8" fill="#22ee22"/>
<circle cx="124.28" cy="119.79" r="1.8" fill="#22ee22"/>
<circle cx="136.99" cy="119.79" r="1.8" fill="#22ee22"/>
<circle cx="150.24" cy="119.79" r="1.8" fill="#22ee22"/>
<circle cx="161.68" cy="119.79" r="1.8" fill="#22ee22"/>
<circle cx="171.65" cy="119.79" r="1.8" fill="#22ee22"/>
<circle cx="185.43" cy="119.79" r="1.8" fill="#22ee22"/>
<circle cx="195.33" cy="119.79" r="1.8" fill="#22ee22"/>
<circle cx="210.05" cy="119.79" r="1.8" fill="#22ee22"/>
<circle cx="221.82" cy="119.85" r="1.8" fill="#22ee22"/>
<circle cx="230.99" cy="120.08" r="1.8" fill="#22ee22"/>
<circle cx="242.23" cy="121.02" r="1.8" fill="#22ee22"/>
<circle cx="250.12" cy="122.45" r="1.8" fill="#22ee22"/>
<circle cx="256.08" cy="125.54" r="1.8" fill="#22ee22"/>
<circle cx="263.23" cy="135.63" r="1.8" fill="#22ee22"/>
<circle cx="268.39" cy="149.62" r="1.8" fill="#22ee22"/>
<circle cx="272.2" cy="160.86" r="1.8" fill="#22ee22"/>
<circle cx="275.08" cy="168.83" r="1.8" fill="#22ee22"/>
<circle cx="277.75" cy="51.15" r="1.8" fill="#22ee22"/>
<circle cx="281.3" cy="67.27" r="1.8" fill="#22ee22"/>
<circle cx="283.57" cy="75.2" r="1.8" fill="#22ee22"/>
<circle cx="286.18" cy="81.24" r="1.8" fill="#22ee22"/>
<circle cx="290.06" cy="83.41" r="1.8" fill="#22ee22"/>
<circle cx="294.88" cy="75.02" r="1.8" fill="#22ee22"/>
<circle cx="299.76" cy="57.4" r="1.8" fill="#22ee22"/>
<circle cx="304.04" cy="170.57" r="1.8" fill="#22ee22"/>
<circle cx="306.58" cy="163.93" r="1.8" fill="#22ee22"/>
<circle cx="309.8" cy="154.73" r="1.8" fill="#22ee22"/>
<circle cx="312.94" cy="145.33" r="1.8" fill="#22ee22"/>
<circle cx="317.29" cy="133.79" r="1.8" fill="#22ee22"/>
<circle cx="330" cy="124.9" r="1.8" fill="#22ee22"/>
<path d="M62.4 120.45L64.3 123.96L60.5 123.96Z" fill="#0000ff"/>
<path d="M78.26 120.45L80.16 123.96L76.36 123.96Z" fill="#0000ff"/>
<path d="M88.83 120.45L90.73 123.96L86.93 123.96Z" fill="#0000ff"/>
<path d="M101.2 120.45L103.1 123.96L99.3 123.96Z" fill="#0000ff"/>
<path d="M111.57 120.45L113.47 123.96L109.67 123.96Z" fill="#0000ff"/>
<path d="M124.28 120.45L126.18 123.96L122.38 123.96Z" fill="#0000ff"/>
<path d="M136.99 120.45L138.89 123.96L135.09 123.96Z" fill="#0000ff"/>
<path d="M150.24 120.45L152.14 123.96L148.34 123.96Z" fill="#0000ff"/>
<path d="M161.68 120.45L163.58 123.96L159.78 123.96Z" fill="#0000ff"/>
<path d="M171.65 120.45L173.55 123.96L169.75 123.96Z" fill="#0000ff"/>
<path d="M185.43 120.45L187.33 123.96L183.53 123.96Z" fill="#0000ff"/>
<path d="M195.33 120.45L197.23 123.96L193.43 123.96Z" fill="#0000ff"/>
<path d="M210.05 120.45L211.95 123.96L208.15 123.96Z" fill="#0000ff"/>
<path d="M221.82 120.5L223.72 124.02L219.92 124.02Z" fill="#0000ff"/>
<path d="M230.99 120.74L232.89 124.25L229.09 124.25Z" fill="#0000ff"/>
<path d="M242.23 121.67L244.13 125.19L240.33 125.19Z" fill="#0000ff"/>
<path d="M250.12 123.1L252.02 126.62L248.22 126.62Z" fill="#0000ff"/>
<path d="M256.08 126.39L257.98 129.9L254.18 129.9Z" fill="#0000ff"/>
<path d="M263.23 136.69L265.13 140.2L261.33 140.2Z" fill="#0000ff"/>
<path d="M268.39 150.69L270.29 154.2L266.49 154.2Z" fill="#0000ff"/>
<path d="M272.2 161.92L274.1 165.44L270.3 165.44Z" fill="#0000ff"/>
<path d="M275.08 169.89L276.98 173.41L273.18 173.41Z" fill="#0000ff"/>
<path d="M277.75 52.21L279.65 55.73L275.85 55.73Z" fill="#0000ff"/>
<path d="M281.3 68.33L283.2 71.85L279.4 71.85Z" fill="#0000ff"/>
<path d="M283.57 76.27L285.47 79.78L281.67 79.78Z" fill="#0000ff"/>
<path d="M286.18 82.3L288.08 85.82L284.28 85.82Z" fill="#0000ff"/>
<path d="M290.06 84.47L291.96 87.98L288.16 87.98Z" fill="#0000ff"/>
<path d="M294.88 76.09L296.78 79.6L292.98 79.6Z" fill="#0000ff"/>
<path d="M299.76 58.47L301.66 61.98L297.86 61.98Z" fill="#0000ff"/>
<path d="M304.04 171.63L305.94 175.14L302.14 175.14Z" fill="#0000ff"/>
<path d="M306.58 164.99L308.48 168.5L304.69 168.5Z" fill="#0000ff"/>
<path d="M309.8 155.79L311.7 159.31L307.9 159.31Z" fill="#0000ff"/>
<path d="M312.94 146.39L314.84 149.91L311.04 149.91Z" fill="#0000ff"/>
<path d="M317.29 134.85L319.19 138.37L315.39 138.37Z" fill="#0000ff"/>
<path d="M330 125.96L331.9 129.48L328.1 129.48Z" fill="#0000ff"/>
<circle cx="62.4" cy="124.9" r="2.1" fill="#ff0000"/>
<circle cx="78.26" cy="124.9" r="2.1" fill="#ff0000"/>
<circle cx="88.83" cy="124.9" r="2.1" fill="#ff0000"/>
<circle cx="101.2" cy="124.9" r="2.1" fill="#ff0000"/>
<circle cx="111.57" cy="124.9" r="2.1" fill="#ff0000"/>
<circle cx="124.28" cy="124.9" r="2.1" fill="#ff0000"/>
<circle cx="136.99" cy="124.9" r="2.1" fill="#ff0000"/>
<circle cx="150.24" cy="124.9" r="2.1" fill="#ff0000"/>
<circle cx="161.68" cy="124.9" r="2.1" fill="#ff0000"/>
<circle cx="171.65" cy="124.9" r="2.1" fill="#ff0000"/>
<circle cx="185.43" cy="124.9" r="2.1" fill="#ff0000"/>
<circle cx="195.33" cy="124.9" r="2.1" fill="#ff0000"/>
<circle cx="210.05" cy="124.9" r="2.1" fill="#ff0000"/>
<circle cx="221.82" cy="124.96" r="2.1" fill="#ff0000"/>
<circle cx="230.99" cy="125.19" r="2.1" fill="#ff0000"/>
<circle cx="242.23" cy="126.13" r="2.1" fill="#ff0000"/>
<circle cx="250.12" cy="127.56" r="2.1" fill="#ff0000"/>
<circle cx="256.08" cy="131.03" r="2.1" fill="#ff0000"/>
<circle cx="263.23" cy="141.55" r="2.1" fill="#ff0000"/>
<circle cx="268.39" cy="155.55" r="2.1" fill="#ff0000"/>
<circle cx="272.2" cy="166.79" r="2.1" fill="#ff0000"/>
<circle cx="275.08" cy="174.75" r="2.1" fill="#ff0000"/>
<circle cx="277.75" cy="57.07" r="2.1" fill="#ff0000"/>
<circle cx="281.3" cy="73.19" r="2.1" fill="#ff0000"/>
<circle cx="283.57" cy="81.13" r="2.1" fill="#ff0000"/>
<circle cx="286.18" cy="87.17" r="2.1" fill="#ff0000"/>
<circle cx="290.06" cy="89.33" r="2.1" fill="#ff0000"/>
<circle cx="294.88" cy="80.95" r="2.1" fill="#ff0000"/>
<circle cx="299.76" cy="63.33" r="2.1" fill="#ff0000"/>
<circle cx="304.04" cy="176.49" r="2.1" fill="#ff0000"/>
<circle cx="306.58" cy="169.85" r="2.1" fill="#ff0000"/>
<circle cx="309.8" cy="160.66" r="2.1" fill="#ff0000"/>
<circle cx="312.94" cy="151.26" r="2.1" fill="#ff0000"/>
<circle cx="317.29" cy="139.71" r="2.1" fill="#ff0000"/>
<circle cx="330" cy="130.83" r="2.1" fill="#ff0000"/>
<circle cx="401.25" cy="123.19" r="1.8" fill="#22ee22"/>
<circle cx="416.81" cy="123.19" r="1.8" fill="#22ee22"/>
<circle cx="427.19" cy="123.19" r="1.8" fill="#22ee22"/>
<circle cx="439.33" cy="123.19" r="1.8" fill="#22ee22"/>
<circle cx="449.51" cy="123.19" r="1.8" fill="#22ee22"/>
<circle cx="461.99" cy="123.19" r="1.8" fill="#22ee22"/>
<circle cx="474.46" cy="123.19" r="1.8" fill="#22ee22"/>
<circle cx="487.46" cy="123.19" r="1.8" fill="#22ee22"/>
<circle cx="498.69" cy="123.19" r="1.8" fill="#22ee22"/>
<circle cx="508.48" cy="123.19" r="1.8" fill="#22ee22"/>
<circle cx="522" cy="123.19" r="1.8" fill="#22ee22"/>
<circle cx="531.72" cy="123.19" r="1.8" fill="#22ee22"/>
<circle cx="546.17" cy="123.19" r="1.8" fill="#22ee22"/>
<circle cx="557.72" cy="123.28" r="1.8" fill="#22ee22"/>
<circle cx="566.72" cy="123.69" r="1.8" fill="#22ee22"/>
<circle cx="577.75" cy="124.97" r="1.8" fill="#22ee22"/>
<circle cx="585.5" cy="127.93" r="1.8" fill="#22ee22"/>
<circle cx="591.34" cy="132.87" r="1.8" fill="#22ee22"/>
<circle cx="598.37" cy="149.19" r="1.8" fill="#22ee22"/>
<circle cx="603.36" cy="162.89" r="1.8" fill="#22ee22"/>
<circle cx="607.3" cy="162.47" r="1.8" fill="#22ee22"/>
<circle cx="609.99" cy="138.12" r="1.8" fill="#22ee22"/>
<circle cx="613.27" cy="70.49" r="1.8" fill="#22ee22"/>
<circle cx="616.62" cy="55.73" r="1.8" fill="#22ee22"/>
<circle cx="619.05" cy="58.54" r="1.8" fill="#22ee22"/>
<circle cx="621.35" cy="62.41" r="1.8" fill="#22ee22"/>
<circle cx="624.5" cy="63.99" r="1.8" fill="#22ee22"/>
<circle cx="626.28" cy="63.29" r="1.8" fill="#22ee22"/>
<circle cx="629.56" cy="58.89" r="1.8" fill="#22ee22"/>
<circle cx="632.32" cy="54.85" r="1.8" fill="#22ee22"/>
<circle cx="635.21" cy="61.7" r="1.8" fill="#22ee22"/>
<circle cx="638.82" cy="126.48" r="1.8" fill="#22ee22"/>
<circle cx="640.85" cy="157.8" r="1.8" fill="#22ee22"/>
<circle cx="643.94" cy="164.65" r="1.8" fill="#22ee22"/>
<circle cx="647.22" cy="158.32" r="1.8" fill="#22ee22"/>
<circle cx="651.69" cy="146.2" r="1.8" fill="#22ee22"/>
<circle cx="663.9" cy="133.03" r="1.8" fill="#22ee22"/>
<path d="M401.25 126.21L403.15 129.72L399.35 129.72Z" fill="#0000ff"/>
<path d="M416.81 126.21L418.71 129.72L414.91 129.72Z" fill="#0000ff"/>
<path d="M427.19 126.21L429.09 129.72L425.29 129.72Z" fill="#0000ff"/>
<path d="M439.33 126.21L441.23 129.72L437.43 129.72Z" fill="#0000ff"/>
<path d="M449.51 126.21L451.41 129.72L447.61 129.72Z" fill="#0000ff"/>
<path d="M461.99 126.21L463.89 129.72L460.09 129.72Z" fill="#0000ff"/>
<path d="M474.46 126.21L476.36 129.72L472.56 129.72Z" fill="#0000ff"/>
<path d="M487.46 126.21L489.36 129.72L485.56 129.72Z" fill="#0000ff"/>
<path d="M498.69 126.21L500.59 129.72L496.79 129.72Z" fill="#0000ff"/>
<path d="M508.48 126.21L510.38 129.72L506.58 129.72Z" fill="#0000ff"/>
<path d="M522 126.21L523.9 129.72L520.1 129.72Z" fill="#0000ff"/>
<path d="M531.72 126.21L533.62 129.72L529.82 129.72Z" fill="#0000ff"/>
<path d="M546.17 126.21L548.07 129.72L544.27 129.72Z" fill="#0000ff"/>
<path d="M557.72 126.3L559.62 129.82L555.82 129.82Z" fill="#0000ff"/>
<path d="M566.72 126.71L568.62 130.23L564.82 130.23Z" fill="#0000ff"/>
<path d="M577.75 127.99L579.65 131.51L575.85 131.51Z" fill="#0000ff"/>
<path d="M585.5 130.95L587.4 134.47L583.6 134.47Z" fill="#0000ff"/>
<path d="M591.34 135.88L593.24 139.4L589.44 139.4Z" fill="#0000ff"/>
<path d="M598.37 152.21L600.27 155.72L596.47 155.72Z" fill="#0000ff"/>
<path d="M603.36 165.91L605.26 169.42L601.46 169.42Z" fill="#0000ff"/>
<path d="M607.3 165.49L609.2 169.01L605.4 169.01Z" fill="#0000ff"/>
<path d="M609.99 141.14L611.89 144.66L608.09 144.66Z" fill="#0000ff"/>
<path d="M613.27 73.51L615.17 77.02L611.37 77.02Z" fill="#0000ff"/>
<path d="M616.62 58.75L618.52 62.27L614.72 62.27Z" fill="#0000ff"/>
<path d="M619.05 61.56L620.95 65.08L617.15 65.08Z" fill="#0000ff"/>
<path d="M621.35 65.43L623.25 68.94L619.45 68.94Z" fill="#0000ff"/>
<path d="M624.5 67.01L626.4 70.52L622.6 70.52Z" fill="#0000ff"/>
<path d="M626.28 66.3L628.18 69.82L624.38 69.82Z" fill="#0000ff"/>
<path d="M629.56 61.91L631.46 65.43L627.66 65.43Z" fill="#0000ff"/>
<path d="M632.32 57.87L634.22 61.39L630.42 61.39Z" fill="#0000ff"/>
<path d="M635.21 64.72L637.11 68.24L633.31 68.24Z" fill="#0000ff"/>
<path d="M638.82 129.5L640.72 133.02L636.92 133.02Z" fill="#0000ff"/>
<path d="M640.85 160.82L642.75 164.33L638.95 164.33Z" fill="#0000ff"/>
<path d="M643.94 167.67L645.84 171.18L642.04 171.18Z" fill="#0000ff"/>
<path d="M647.22 161.34L649.12 164.86L645.32 164.86Z" fill="#0000ff"/>
<path d="M651.69 149.22L653.59 152.74L649.79 152.74Z" fill="#0000ff"/>
<path d="M663.9 136.05L665.8 139.56L662 139.56Z" fill="#0000ff"/>
<circle cx="401.25" cy="132.5" r="2.1" fill="#ff0000"/>
<circle cx="416.81" cy="132.5" r="2.1" fill="#ff0000"/>
<circle cx="427.19" cy="132.5" r="2.1" fill="#ff0000"/>
<circle cx="439.33" cy="132.5" r="2.1" fill="#ff0000"/>
<circle cx="449.51" cy="132.5" r="2.1" fill="#ff0000"/>
<circle cx="461.99" cy="132.5" r="2.1" fill="#ff0000"/>
<circle cx="474.46" cy="132.5" r="2.1" fill="#ff0000"/>
<circle cx="487.46" cy="132.5" r="2.1" fill="#ff0000"/>
<circle cx="498.69" cy="132.5" r="2.1" fill="#ff0000"/>
<circle cx="508.48" cy="132.5" r="2.1" fill="#ff0000"/>
<circle cx="522" cy="132.5" r="2.1" fill="#ff0000"/>
<circle cx="531.72" cy="132.5" r="2.1" fill="#ff0000"/>
<circle cx="546.17" cy="132.5" r="2.1" fill="#ff0000"/>
<circle cx="557.72" cy="132.59" r="2.1" fill="#ff0000"/>
<circle cx="566.72" cy="133" r="2.1" fill="#ff0000"/>
<circle cx="577.75" cy="134.28" r="2.1" fill="#ff0000"/>
<circle cx="585.5" cy="137.24" r="2.1" fill="#ff0000"/>
<circle cx="591.34" cy="142.18" r="2.1" fill="#ff0000"/>
<circle cx="598.37" cy="158.5" r="2.1" fill="#ff0000"/>
<circle cx="603.36" cy="172.2" r="2.1" fill="#ff0000"/>
<circle cx="607.3" cy="171.78" r="2.1" fill="#ff0000"/>
<circle cx="609.99" cy="147.43" r="2.1" fill="#ff0000"/>
<circle cx="613.27" cy="79.8" r="2.1" fill="#ff0000"/>
<circle cx="616.62" cy="65.04" r="2.1" fill="#ff0000"/>
<circle cx="619.05" cy="67.85" r="2.1" fill="#ff0000"/>
<circle cx="621.35" cy="71.72" r="2.1" fill="#ff0000"/>
<circle cx="624.5" cy="73.3" r="2.1" fill="#ff0000"/>
<circle cx="626.28" cy="72.6" r="2.1" fill="#ff0000"/>
<circle cx="629.56" cy="68.2" r="2.1" fill="#ff0000"/>
<circle cx="632.32" cy="64.16" r="2.1" fill="#ff0000"/>
<circle cx="635.21" cy="71.02" r="2.1" fill="#ff0000"/>
<circle cx="638.82" cy="135.79" r="2.1" fill="#ff0000"/>
<circle cx="640.85" cy="167.11" r="2.1" fill="#ff0000"/>
<circle cx="643.94" cy="173.96" r="2.1" fill="#ff0000"/>
<circle cx="647.22" cy="167.63" r="2.1" fill="#ff0000"/>
<circle cx="651.69" cy="155.51" r="2.1" fill="#ff0000"/>
<circle cx="663.9" cy="142.34" r="2.1" fill="#ff0000"/>
<line x1="59.7" y1="27.85" x2="62.4" y2="27.85" stroke="#222" stroke-width="1"/>
<line x1="59.7" y1="32.96" x2="62.4" y2="32.96" stroke="#222" stroke-width="1"/>
<line x1="59.7" y1="38.06" x2="62.4" y2="38.06" stroke="#222" stroke-width="1"/>
<line x1="59.7" y1="43.17" x2="62.4" y2="43.17" stroke="#222" stroke-width="1"/>
<line x1="59.7" y1="53.39" x2="62.4" y2="53.39" stroke="#222" stroke-width="1"/>
<line x1="59.7" y1="58.5" x2="62.4" y2="58.5" stroke="#222" stroke-width="1"/>
<line x1="59.7" y1="63.6" x2="62.4" y2="63.6" stroke="#222" stroke-width="1"/>
<line x1="59.7" y1="68.71" x2="62.4" y2="68.71" stroke="#222" stroke-width="1"/>
<line x1="59.7" y1="78.93" x2="62.4" y2="78.93" stroke="#222" stroke-width="1"/>
<line x1="59.7" y1="84.04" x2="62.4" y2="84.04" stroke="#222" stroke-width="1"/>
<line x1="59.7" y1="89.14" x2="62.4" y2="89.14" stroke="#222" stroke-width="1"/>
<line x1="59.7" y1="94.25" x2="62.4" y2="94.25" stroke="#222" stroke-width="1"/>
<line x1="59.7" y1="104.47" x2="62.4" y2="104.47" stroke="#222" stroke-width="1"/>
<line x1="59.7" y1="109.58" x2="62.4" y2="109.58" stroke="#222" stroke-width="1"/>
<line x1="59.7" y1="114.68" x2="62.4" y2="114.68" stroke="#222" stroke-width="1"/>
<line x1="59.7" y1="119.79" x2="62.4" y2="119.79" stroke="#222" stroke-width="1"/>
<line x1="59.7" y1="130.01" x2="62.4" y2="130.01" stroke="#222" stroke-width="1"/>
<line x1="59.7" y1="135.12" x2="62.4" y2="135.12" stroke="#222" stroke-width="1"/>
<line x1="59.7" y1="140.22" x2="62.4" y2="140.22" stroke="#222" stroke-width="1"/>
<line x1="59.7" y1="145.33" x2="62.4" y2="145.33" stroke="#222" stroke-width="1"/>
<line x1="59.7" y1="155.55" x2="62.4" y2="155.55" stroke="#222" stroke-width="1"/>
<line x1="59.7" y1="160.66" x2="62.4" y2="160.66" stroke="#222" stroke-width="1"/>
<line x1="59.7" y1="165.76" x2="62.4" y2="165.76" stroke="#222" stroke-width="1"/>
<line x1="59.7" y1="170.87" x2="62.4" y2="170.87" stroke="#222" stroke-width="1"/>
<line x1="59.7" y1="181.09" x2="62.4" y2="181.09" stroke="#222" stroke-width="1"/>
<line x1="59.7" y1="186.2" x2="62.4" y2="186.2" stroke="#222" stroke-width="1"/>
<line x1="59.7" y1="191.3" x2="62.4" y2="191.3" stroke="#222" stroke-width="1"/>
<line x1="59.7" y1="196.41" x2="62.4" y2="196.41" stroke="#222" stroke-width="1"/>
<line x1="56.9" y1="22.4" x2="62.4" y2="22.4" stroke="#222" stroke-width="1.1"/>
<line x1="56.9" y1="48.6" x2="62.4" y2="48.6" stroke="#222" stroke-width="1.1"/>
<line x1="56.9" y1="73.45" x2="62.4" y2="73.45" stroke="#222" stroke-width="1.1"/>
<line x1="56.9" y1="99.6" x2="62.4" y2="99.6" stroke="#222" stroke-width="1.1"/>
<line x1="56.9" y1="124.9" x2="62.4" y2="124.9" stroke="#222" stroke-width="1.1"/>
<line x1="56.9" y1="150.8" x2="62.4" y2="150.8" stroke="#222" stroke-width="1.1"/>
<line x1="56.9" y1="176.35" x2="62.4" y2="176.35" stroke="#222" stroke-width="1.1"/>
<line x1="56.9" y1="201.65" x2="62.4" y2="201.65" stroke="#222" stroke-width="1.1"/>
<line x1="75.78" y1="201.65" x2="75.78" y2="205.25" stroke="#222" stroke-width="1"/>
<line x1="89.16" y1="201.65" x2="89.16" y2="205.25" stroke="#222" stroke-width="1"/>
<line x1="102.54" y1="201.65" x2="102.54" y2="205.25" stroke="#222" stroke-width="1"/>
<line x1="115.92" y1="201.65" x2="115.92" y2="205.25" stroke="#222" stroke-width="1"/>
<line x1="142.68" y1="201.65" x2="142.68" y2="205.25" stroke="#222" stroke-width="1"/>
<line x1="156.06" y1="201.65" x2="156.06" y2="205.25" stroke="#222" stroke-width="1"/>
<line x1="169.44" y1="201.65" x2="169.44" y2="205.25" stroke="#222" stroke-width="1"/>
<line x1="182.82" y1="201.65" x2="182.82" y2="205.25" stroke="#222" stroke-width="1"/>
<line x1="209.58" y1="201.65" x2="209.58" y2="205.25" stroke="#222" stroke-width="1"/>
<line x1="222.96" y1="201.65" x2="222.96" y2="205.25" stroke="#222" stroke-width="1"/>
<line x1="236.34" y1="201.65" x2="236.34" y2="205.25" stroke="#222" stroke-width="1"/>
<line x1="249.72" y1="201.65" x2="249.72" y2="205.25" stroke="#222" stroke-width="1"/>
<line x1="276.48" y1="201.65" x2="276.48" y2="205.25" stroke="#222" stroke-width="1"/>
<line x1="289.86" y1="201.65" x2="289.86" y2="205.25" stroke="#222" stroke-width="1"/>
<line x1="303.24" y1="201.65" x2="303.24" y2="205.25" stroke="#222" stroke-width="1"/>
<line x1="316.62" y1="201.65" x2="316.62" y2="205.25" stroke="#222" stroke-width="1"/>
<line x1="62.4" y1="201.65" x2="62.4" y2="207.95" stroke="#222" stroke-width="1.1"/>
<line x1="129.3" y1="201.65" x2="129.3" y2="207.95" stroke="#222" stroke-width="1.1"/>
<line x1="196.2" y1="201.65" x2="196.2" y2="207.95" stroke="#222" stroke-width="1.1"/>
<line x1="263.1" y1="201.65" x2="263.1" y2="207.95" stroke="#222" stroke-width="1.1"/>
<line x1="330" y1="201.65" x2="330" y2="207.95" stroke="#222" stroke-width="1.1"/>
<line x1="61.8" y1="22.4" x2="330" y2="22.4" stroke="#353535" stroke-width="1.3"/>
<line x1="62.4" y1="21.8" x2="62.4" y2="202.25" stroke="#262626" stroke-width="1.25"/>
<line x1="61.8" y1="201.65" x2="330" y2="201.65" stroke="#2a2a2a" stroke-width="1.3"/>
<line x1="330" y1="21.8" x2="330" y2="202.25" stroke="#6a6a6a" stroke-width="1.7"/>
<line x1="398.55" y1="34.12" x2="401.25" y2="34.12" stroke="#222" stroke-width="1"/>
<line x1="398.55" y1="41.15" x2="401.25" y2="41.15" stroke="#222" stroke-width="1"/>
<line x1="398.55" y1="48.18" x2="401.25" y2="48.18" stroke="#222" stroke-width="1"/>
<line x1="398.55" y1="55.21" x2="401.25" y2="55.21" stroke="#222" stroke-width="1"/>
<line x1="398.55" y1="69.26" x2="401.25" y2="69.26" stroke="#222" stroke-width="1"/>
<line x1="398.55" y1="76.29" x2="401.25" y2="76.29" stroke="#222" stroke-width="1"/>
<line x1="398.55" y1="83.31" x2="401.25" y2="83.31" stroke="#222" stroke-width="1"/>
<line x1="398.55" y1="90.34" x2="401.25" y2="90.34" stroke="#222" stroke-width="1"/>
<line x1="398.55" y1="104.39" x2="401.25" y2="104.39" stroke="#222" stroke-width="1"/>
<line x1="398.55" y1="111.42" x2="401.25" y2="111.42" stroke="#222" stroke-width="1"/>
<line x1="398.55" y1="118.45" x2="401.25" y2="118.45" stroke="#222" stroke-width="1"/>
<line x1="398.55" y1="125.47" x2="401.25" y2="125.47" stroke="#222" stroke-width="1"/>
<line x1="398.55" y1="139.53" x2="401.25" y2="139.53" stroke="#222" stroke-width="1"/>
<line x1="398.55" y1="146.55" x2="401.25" y2="146.55" stroke="#222" stroke-width="1"/>
<line x1="398.55" y1="153.58" x2="401.25" y2="153.58" stroke="#222" stroke-width="1"/>
<line x1="398.55" y1="160.61" x2="401.25" y2="160.61" stroke="#222" stroke-width="1"/>
<line x1="398.55" y1="174.66" x2="401.25" y2="174.66" stroke="#222" stroke-width="1"/>
<line x1="398.55" y1="181.69" x2="401.25" y2="181.69" stroke="#222" stroke-width="1"/>
<line x1="398.55" y1="188.71" x2="401.25" y2="188.71" stroke="#222" stroke-width="1"/>
<line x1="398.55" y1="195.74" x2="401.25" y2="195.74" stroke="#222" stroke-width="1"/>
<line x1="395.75" y1="26.8" x2="401.25" y2="26.8" stroke="#222" stroke-width="1.1"/>
<line x1="395.75" y1="61.9" x2="401.25" y2="61.9" stroke="#222" stroke-width="1.1"/>
<line x1="395.75" y1="97.3" x2="401.25" y2="97.3" stroke="#222" stroke-width="1.1"/>
<line x1="395.75" y1="132.5" x2="401.25" y2="132.5" stroke="#222" stroke-width="1.1"/>
<line x1="395.75" y1="167.4" x2="401.25" y2="167.4" stroke="#222" stroke-width="1.1"/>
<line x1="395.75" y1="202.75" x2="401.25" y2="202.75" stroke="#222" stroke-width="1.1"/>
<line x1="414.38" y1="202.75" x2="414.38" y2="206.35" stroke="#222" stroke-width="1"/>
<line x1="427.51" y1="202.75" x2="427.51" y2="206.35" stroke="#222" stroke-width="1"/>
<line x1="440.65" y1="202.75" x2="440.65" y2="206.35" stroke="#222" stroke-width="1"/>
<line x1="453.78" y1="202.75" x2="453.78" y2="206.35" stroke="#222" stroke-width="1"/>
<line x1="480.04" y1="202.75" x2="480.04" y2="206.35" stroke="#222" stroke-width="1"/>
<line x1="493.18" y1="202.75" x2="493.18" y2="206.35" stroke="#222" stroke-width="1"/>
<line x1="506.31" y1="202.75" x2="506.31" y2="206.35" stroke="#222" stroke-width="1"/>
<line x1="519.44" y1="202.75" x2="519.44" y2="206.35" stroke="#222" stroke-width="1"/>
<line x1="545.71" y1="202.75" x2="545.71" y2="206.35" stroke="#222" stroke-width="1"/>
<line x1="558.84" y1="202.75" x2="558.84" y2="206.35" stroke="#222" stroke-width="1"/>
<line x1="571.97" y1="202.75" x2="571.97" y2="206.35" stroke="#222" stroke-width="1"/>
<line x1="585.11" y1="202.75" x2="585.11" y2="206.35" stroke="#222" stroke-width="1"/>
<line x1="611.37" y1="202.75" x2="611.37" y2="206.35" stroke="#222" stroke-width="1"/>
<line x1="624.5" y1="202.75" x2="624.5" y2="206.35" stroke="#222" stroke-width="1"/>
<line x1="637.63" y1="202.75" x2="637.63" y2="206.35" stroke="#222" stroke-width="1"/>
<line x1="650.77" y1="202.75" x2="650.77" y2="206.35" stroke="#222" stroke-width="1"/>
<line x1="401.25" y1="202.75" x2="401.25" y2="209.05" stroke="#222" stroke-width="1.1"/>
<line x1="466.91" y1="202.75" x2="466.91" y2="209.05" stroke="#222" stroke-width="1.1"/>
<line x1="532.58" y1="202.75" x2="532.58" y2="209.05" stroke="#222" stroke-width="1.1"/>
<line x1="598.24" y1="202.75" x2="598.24" y2="209.05" stroke="#222" stroke-width="1.1"/>
<line x1="663.9" y1="202.75" x2="663.9" y2="209.05" stroke="#222" stroke-width="1.1"/>
<line x1="400.65" y1="26.8" x2="663.9" y2="26.8" stroke="#353535" stroke-width="1.3"/>
<line x1="401.25" y1="26.2" x2="401.25" y2="203.35" stroke="#262626" stroke-width="1.25"/>
<line x1="400.65" y1="202.75" x2="663.9" y2="202.75" stroke="#2a2a2a" stroke-width="1.3"/>
<line x1="663.9" y1="26.2" x2="663.9" y2="203.35" stroke="#6a6a6a" stroke-width="1.7"/>
<text x="50.8" y="26.7" text-anchor="end" font-size="12.8" font-family="Liberation Serif" fill="#222">0.100</text>
<text x="50.8" y="52.9" text-anchor="end" font-size="12.8" font-family="Liberation Serif" fill="#222">0.075</text>
<text x="50.8" y="77.75" text-anchor="end" font-size="12.8" font-family="Liberation Serif" fill="#222">0.050</text>
<text x="50.8" y="103.9" text-anchor="end" font-size="12.8" font-family="Liberation Serif" fill="#222">0.025</text>
<text x="50.8" y="129.2" text-anchor="end" font-size="12.8" font-family="Liberation Serif" fill="#222">0.000</text>
<text x="50.8" y="155.1" text-anchor="end" font-size="12.8" font-family="Liberation Serif" fill="#222">-0.025</text>
<text x="50.8" y="180.65" text-anchor="end" font-size="12.8" font-family="Liberation Serif" fill="#222">-0.050</text>
<text x="50.8" y="205.95" text-anchor="end" font-size="12.8" font-family="Liberation Serif" fill="#222">-0.075</text>
<text x="390.2" y="31.3" text-anchor="end" font-size="12.8" font-family="Liberation Serif" fill="#222">0.06</text>
<text x="390.2" y="66.4" text-anchor="end" font-size="12.8" font-family="Liberation Serif" fill="#222">0.04</text>
<text x="390.2" y="101.8" text-anchor="end" font-size="12.8" font-family="Liberation Serif" fill="#222">0.02</text>
<text x="390.2" y="137" text-anchor="end" font-size="12.8" font-family="Liberation Serif" fill="#222">0.00</text>
<text x="390.2" y="171.9" text-anchor="end" font-size="12.8" font-family="Liberation Serif" fill="#222">-0.02</text>
<text x="390.2" y="207.25" text-anchor="end" font-size="12.8" font-family="Liberation Serif" fill="#222">-0.04</text>
<text x="62.7" y="226.05" text-anchor="middle" font-size="13.2" font-family="Liberation Serif" fill="#222">0</text>
<text x="129.6" y="226.05" text-anchor="middle" font-size="13.2" font-family="Liberation Serif" fill="#222">10</text>
<text x="196.5" y="226.05" text-anchor="middle" font-size="13.2" font-family="Liberation Serif" fill="#222">20</text>
<text x="263.4" y="226.05" text-anchor="middle" font-size="13.2" font-family="Liberation Serif" fill="#222">30</text>
<text x="330.3" y="226.05" text-anchor="middle" font-size="13.2" font-family="Liberation Serif" fill="#222">40</text>
<text x="401.55" y="227.15" text-anchor="middle" font-size="13.2" font-family="Liberation Serif" fill="#222">0</text>
<text x="467.21" y="227.15" text-anchor="middle" font-size="13.2" font-family="Liberation Serif" fill="#222">10</text>
<text x="532.88" y="227.15" text-anchor="middle" font-size="13.2" font-family="Liberation Serif" fill="#222">20</text>
<text x="598.54" y="227.15" text-anchor="middle" font-size="13.2" font-family="Liberation Serif" fill="#222">30</text>
<text x="664.2" y="227.15" text-anchor="middle" font-size="13.2" font-family="Liberation Serif" fill="#222">40</text>
<text transform="translate(195.9,248.9) scale(0.935,1)" text-anchor="middle" font-size="13.7" font-family="Liberation Serif" fill="#222">X<tspan font-size="8.6" dy="2.5">3</tspan><tspan dy="-2.5"> [nm]</tspan></text>
<text transform="translate(532.28,248.9) scale(0.935,1)" text-anchor="middle" font-size="13.7" font-family="Liberation Serif" fill="#222">X<tspan font-size="8.6" dy="2.5">3</tspan><tspan dy="-2.5"> [nm]</tspan></text>
<text transform="translate(7.4,119.0) rotate(-90)" font-size="12" font-family="Liberation Serif" fill="#333">&#949;<tspan font-size="6.9" dy="1.8" dx="1.3" fill="#666">33</tspan></text>
<text transform="translate(354.3,121.3) rotate(-90)" font-size="12" font-family="Liberation Serif" fill="#333">&#949;<tspan font-size="6.9" dy="1.8" dx="1.3" fill="#666">33</tspan></text>
<text x="194.6" y="11.8" text-anchor="middle" font-size="16" font-style="italic" font-family="Liberation Serif" fill="#222">l=0</text>
<text x="502.8" y="17.5" font-size="16" font-style="italic" font-family="Liberation Serif" fill="#222" dx="0 0.5 1.5 -1.1 0.5 1.0">l=5x10<tspan font-size="10" dy="-5.2" dx="-0.6 0.2 0.3">-10</tspan></text>
<rect x="80.8" y="36.5" width="98.3" height="66.3" fill="#fff" stroke="#999" stroke-width="1.25"/>
<line x1="86" y1="48.8" x2="117.7" y2="48.8" stroke="#ff4646" stroke-width="1.6"/>
<circle cx="102" cy="48.8" r="2.31" fill="#ff0000"/>
<text transform="translate(126.6,53.8) scale(0.925,1)" font-size="12.88" font-style="italic" font-family="Liberation Serif" fill="#222">T=0&#176;C</text>
<line x1="86" y1="68.2" x2="117.7" y2="68.2" stroke="#2f2fff" stroke-width="1.6"/>
<path d="M102 66.11L104.09 69.98L99.91 69.98Z" fill="#0000ff"/>
<text transform="translate(126.6,73.2) scale(0.925,1)" font-size="12.88" font-style="italic" font-family="Liberation Serif" fill="#222">T=250&#176;C</text>
<line x1="86" y1="87.8" x2="117.7" y2="87.8" stroke="#5ee25e" stroke-width="1.6"/>
<circle cx="102" cy="87.8" r="1.98" fill="#22ee22"/>
<text transform="translate(126.6,92.8) scale(0.925,1)" font-size="12.88" font-style="italic" font-family="Liberation Serif" fill="#222">T=500&#176;C</text>
<rect x="412.5" y="35.7" width="96.3" height="65.3" fill="#fff" stroke="#999" stroke-width="1.25"/>
<line x1="417.9" y1="48.4" x2="448.8" y2="48.4" stroke="#ff4646" stroke-width="1.6"/>
<circle cx="433.4" cy="48.4" r="2.31" fill="#ff0000"/>
<text transform="translate(457.6,53.4) scale(0.925,1)" font-size="12.51" font-style="italic" font-family="Liberation Serif" fill="#222">T=0&#176;C</text>
<line x1="417.9" y1="67.9" x2="448.8" y2="67.9" stroke="#2f2fff" stroke-width="1.6"/>
<path d="M433.4 65.81L435.49 69.68L431.31 69.68Z" fill="#0000ff"/>
<text transform="translate(457.6,72.9) scale(0.925,1)" font-size="12.51" font-style="italic" font-family="Liberation Serif" fill="#222">T=250&#176;C</text>
<line x1="417.9" y1="87.4" x2="448.8" y2="87.4" stroke="#5ee25e" stroke-width="1.6"/>
<circle cx="433.4" cy="87.4" r="1.98" fill="#22ee22"/>
<text transform="translate(457.6,92.4) scale(0.925,1)" font-size="12.51" font-style="italic" font-family="Liberation Serif" fill="#222">T=500&#176;C</text>
</svg>
</body></html>
